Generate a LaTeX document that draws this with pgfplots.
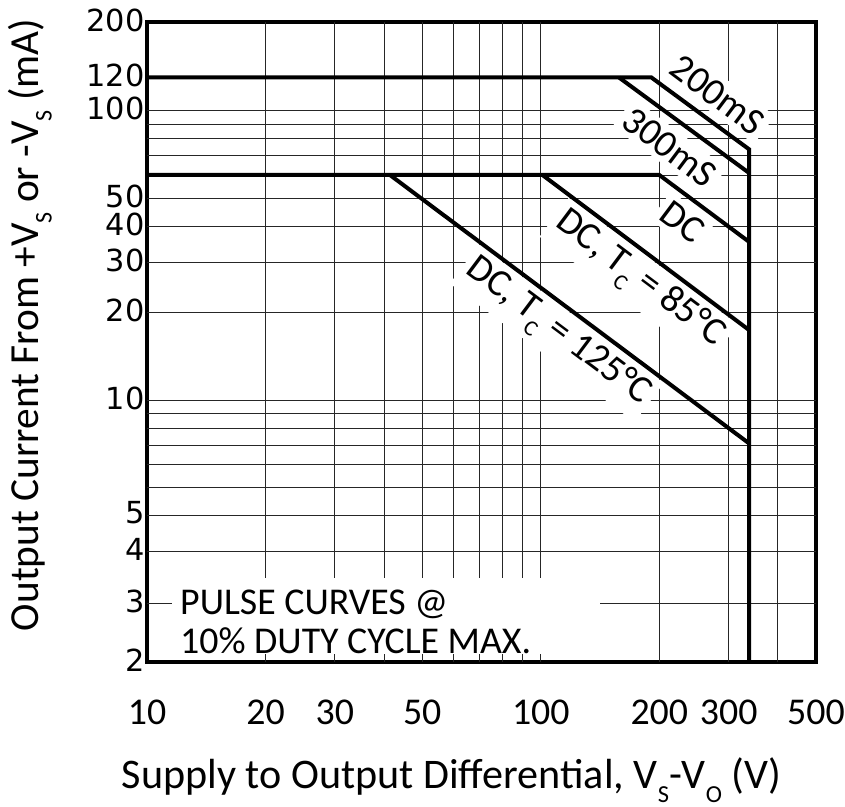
\documentclass[border=0pt]{standalone}
\usepackage{fontspec}
\setmainfont{Carlito}
\newfontfamily\dejavu{DejaVu Sans}
\usepackage{graphicx}
\usepackage{pgfplots}
\pgfplotsset{compat=1.18}
\newcommand\sub[1]{\raisebox{-0.32em}{\scalebox{0.58}{#1}}}
% piecewise log-linear mapping of the (non uniform) current scale of the original chart
\newcommand\ytrafo[1]{%
  \begingroup
  \pgfkeys{/pgf/fpu=true,/pgf/fpu/output format=fixed}%
  \pgfmathparse{ln(#1)}%
  \let\myL\pgfmathresult
  \ifdim\myL pt<1.098612pt \pgfmathparse{144.77*(\myL-0.693147)}%
  \else\ifdim\myL pt<1.386294pt \pgfmathparse{58.7+181.80*(\myL-1.098612)}%
  \else\ifdim\myL pt<1.609438pt \pgfmathparse{111+161.33*(\myL-1.386294)}%
  \else\ifdim\myL pt<2.302585pt \pgfmathparse{147+164.90*(\myL-1.609438)}%
  \else\ifdim\myL pt<2.995732pt \pgfmathparse{261.3+126.96*(\myL-2.302585)}%
  \else\ifdim\myL pt<3.401197pt \pgfmathparse{349.3+124.30*(\myL-2.995732)}%
  \else\ifdim\myL pt<3.688879pt \pgfmathparse{399.7+123.75*(\myL-3.401197)}%
  \else\ifdim\myL pt<3.912023pt \pgfmathparse{435.3+127.27*(\myL-3.688879)}%
  \else\ifdim\myL pt<4.094345pt \pgfmathparse{463.7+127.80*(\myL-3.912023)}%
  \else\ifdim\myL pt<4.605170pt \pgfmathparse{487+125.87*(\myL-4.094345)}%
  \else\ifdim\myL pt<4.787492pt \pgfmathparse{551.3+182.09*(\myL-4.605170)}%
  \else \pgfmathparse{584.5+108.65*(\myL-4.787492)}%
  \fi\fi\fi\fi\fi\fi\fi\fi\fi\fi\fi
  \xdef\ytraforesult{\pgfmathresult}%
  \endgroup
  \let\pgfmathresult\ytraforesult
}
\tikzset{clabel/.style={rotate=-36.87, fill=white, inner sep=5bp, font=\fontsize{38.5}{38.5}\selectfont}}
\begin{document}
\begin{tikzpicture}
\useasboundingbox (0bp,0bp) rectangle (845bp,807bp);
\begin{axis}[
  at={(147bp,145bp)}, anchor=south west,
  scale only axis, width=669bp, height=640bp,
  xmode=log, log basis x=10,
  xmin=10, xmax=500,
  ymin=2, ymax=200,
  y coord trafo/.code={\ytrafo{#1}},
  scaled ticks=false,
  xtick={10,20,30,50,100,200,300,500},
  xticklabels={10,20,30,50,100,200,300,500},
  ytick={2,3,4,5,10,20,30,40,50,100,120,200},
  yticklabels={2,3,4,5,10,20,30,40,50,100,120,200},
  minor xtick={}, minor ytick={},
  extra x ticks={20,30,40,50,60,70,80,90,100,200,300,400},
  extra x tick labels={},
  extra y ticks={3,4,5,5.915,6.8,7.612,8.459,9.264,10,20,30,40,50,60,70,80,90,100},
  extra y tick labels={},
  extra tick style={grid=major},
  major tick length=0pt,
  major grid style={black!85, line width=0.9bp},
  axis line style={line width=3.5bp, black},
  xticklabel style={font=\fontsize{38}{38}\selectfont, yshift=-34bp},
  yticklabel style={font=\dejavu\fontsize{30.5}{30.5}\selectfont, xshift=1bp, yshift=2bp},
  curve/.style={black, line width=4bp, no markers},
]
% white boxes behind the texts (drawn before the curves)
\fill[white] (rel axis cs:0.037,0.012) rectangle (rel axis cs:0.677,0.131);
\node[anchor=west, font=\fontsize{38}{38}\selectfont, inner sep=0pt] at (rel axis cs:0.0493,0.0906) {PULSE CURVES @};
\node[anchor=west, font=\fontsize{38}{38}\selectfont, inner sep=0pt] at (rel axis cs:0.0493,0.0325) {10\% DUTY CYCLE MAX.};
\node[clabel] at (rel axis cs:0.8532,0.8860) {200mS};
\node[clabel] at (rel axis cs:0.7812,0.8042) {300mS};
\node[clabel] at (rel axis cs:0.8003,0.6880) {DC};
\node[clabel] at (rel axis cs:0.7350,0.5958) {DC, T\sub{C} = 85°C};
\node[clabel] at (rel axis cs:0.6126,0.5136) {DC, T\sub{C} = 125°C};
% 200 mS envelope and voltage limit
\addplot[curve] coordinates {(10,120) (191,120) (338,73.6) (338,2)};
% 300 mS
\addplot[curve] coordinates {(158,120) (338,61)};
% DC
\addplot[curve] coordinates {(10,60) (200,60) (338,35.4)};
% DC, Tc = 85 C
\addplot[curve] coordinates {(101,60) (338,17.45)};
% DC, Tc = 125 C
\addplot[curve] coordinates {(41.4,60) (338,7.72)};
\end{axis}
\node[font=\fontsize{42.3}{42.3}\selectfont] at (451.5bp,27bp) {Supply to Output Differential, V\sub{S}-V\sub{O} (V)};
\node[rotate=90, font=\fontsize{41.5}{41.5}\selectfont] at (30bp,482bp) {Output Current From +V\sub{S} or -V\sub{S} (mA)};
\end{tikzpicture}
\end{document}
